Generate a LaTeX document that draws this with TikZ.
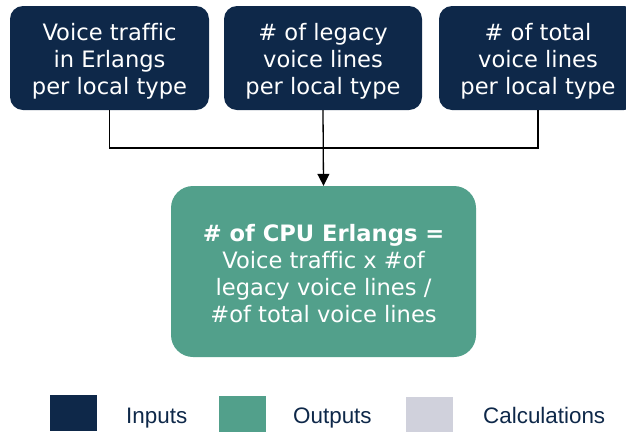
\documentclass[tikz,border=0pt]{standalone}
\usepackage{fontspec}
\setmainfont[Ligatures=NoCommon]{DejaVu Sans}
\newfontfamily\legendfont{Liberation Sans}
\usetikzlibrary{positioning,arrows.meta}
\definecolor{navyin}{HTML}{0E2849}
\definecolor{greenout}{HTML}{52A08B}
\definecolor{graycalc}{HTML}{D0D1DC}
\newcommand{\topgap}[1]{\rule{0pt}{#1}}
\begin{document}
\begin{tikzpicture}[x=1pt,y=-1pt,
	inbox/.style={fill=navyin, text=white, rounded corners=13pt, align=center,
		minimum width=198pt, minimum height=104pt, inner sep=0pt,
		font=\fontsize{22.6}{27}\selectfont},
	outbox/.style={fill=greenout, text=white, rounded corners=22pt, align=center,
		minimum width=305pt, minimum height=171pt, inner sep=0pt,
		font=\fontsize{22.6}{27}\selectfont},
	legbox/.style={minimum width=47pt, minimum height=36pt, inner sep=0pt},
	legtext/.style={anchor=base west, text=navyin, inner sep=0pt,
		font=\legendfont\fontsize{22.4}{26}\selectfont},
	link/.style={line width=1.3pt, black}]
	\useasboundingbox (0,0) rectangle (626,432);
	\clip (0,0) rectangle (626,432);
	% inputs
	\node[inbox, minimum width=199pt] (traffic) at (109.5,58) {\topgap{23pt}Voice traffic\\in Erlangs\\per local type};
	\node[inbox] (legacy) at (323,58) {\topgap{23pt}\# of legacy\\voice lines\\per local type};
	\node[inbox] (total) at (538,58) {\topgap{23pt}\# of total\\voice lines\\per local type};
	% output
	\node[outbox] (cpu) at (323.5,271.5) {\topgap{22pt}\textbf{\# of CPU Erlangs =}\\Voice traffic x \#of\\legacy voice lines /\\\#of total voice lines};
	% connectors
	\coordinate (join) at (323,148);
	\draw[link] (traffic.south) |- (join) -| (total.south);
	\draw[link, -{Triangle[width=12pt,length=12pt]}] (legacy.south) -- (cpu.north);
	% legend
	\node[legbox, fill=navyin] (legin) at (73.5,413) {};
	\node[legbox, fill=greenout] (legout) at (242.5,414) {};
	\node[legbox, fill=graycalc, minimum height=35pt] (legcalc) at (429.5,414.5) {};
	\node[legtext] (txtin) at (126,423.5) {Inputs};
	\node[legtext] (txtout) at (293,423.5) {Outputs};
	\node[legtext] (txtcalc) at (483,423.5) {Calculations};
\end{tikzpicture}
\end{document}
